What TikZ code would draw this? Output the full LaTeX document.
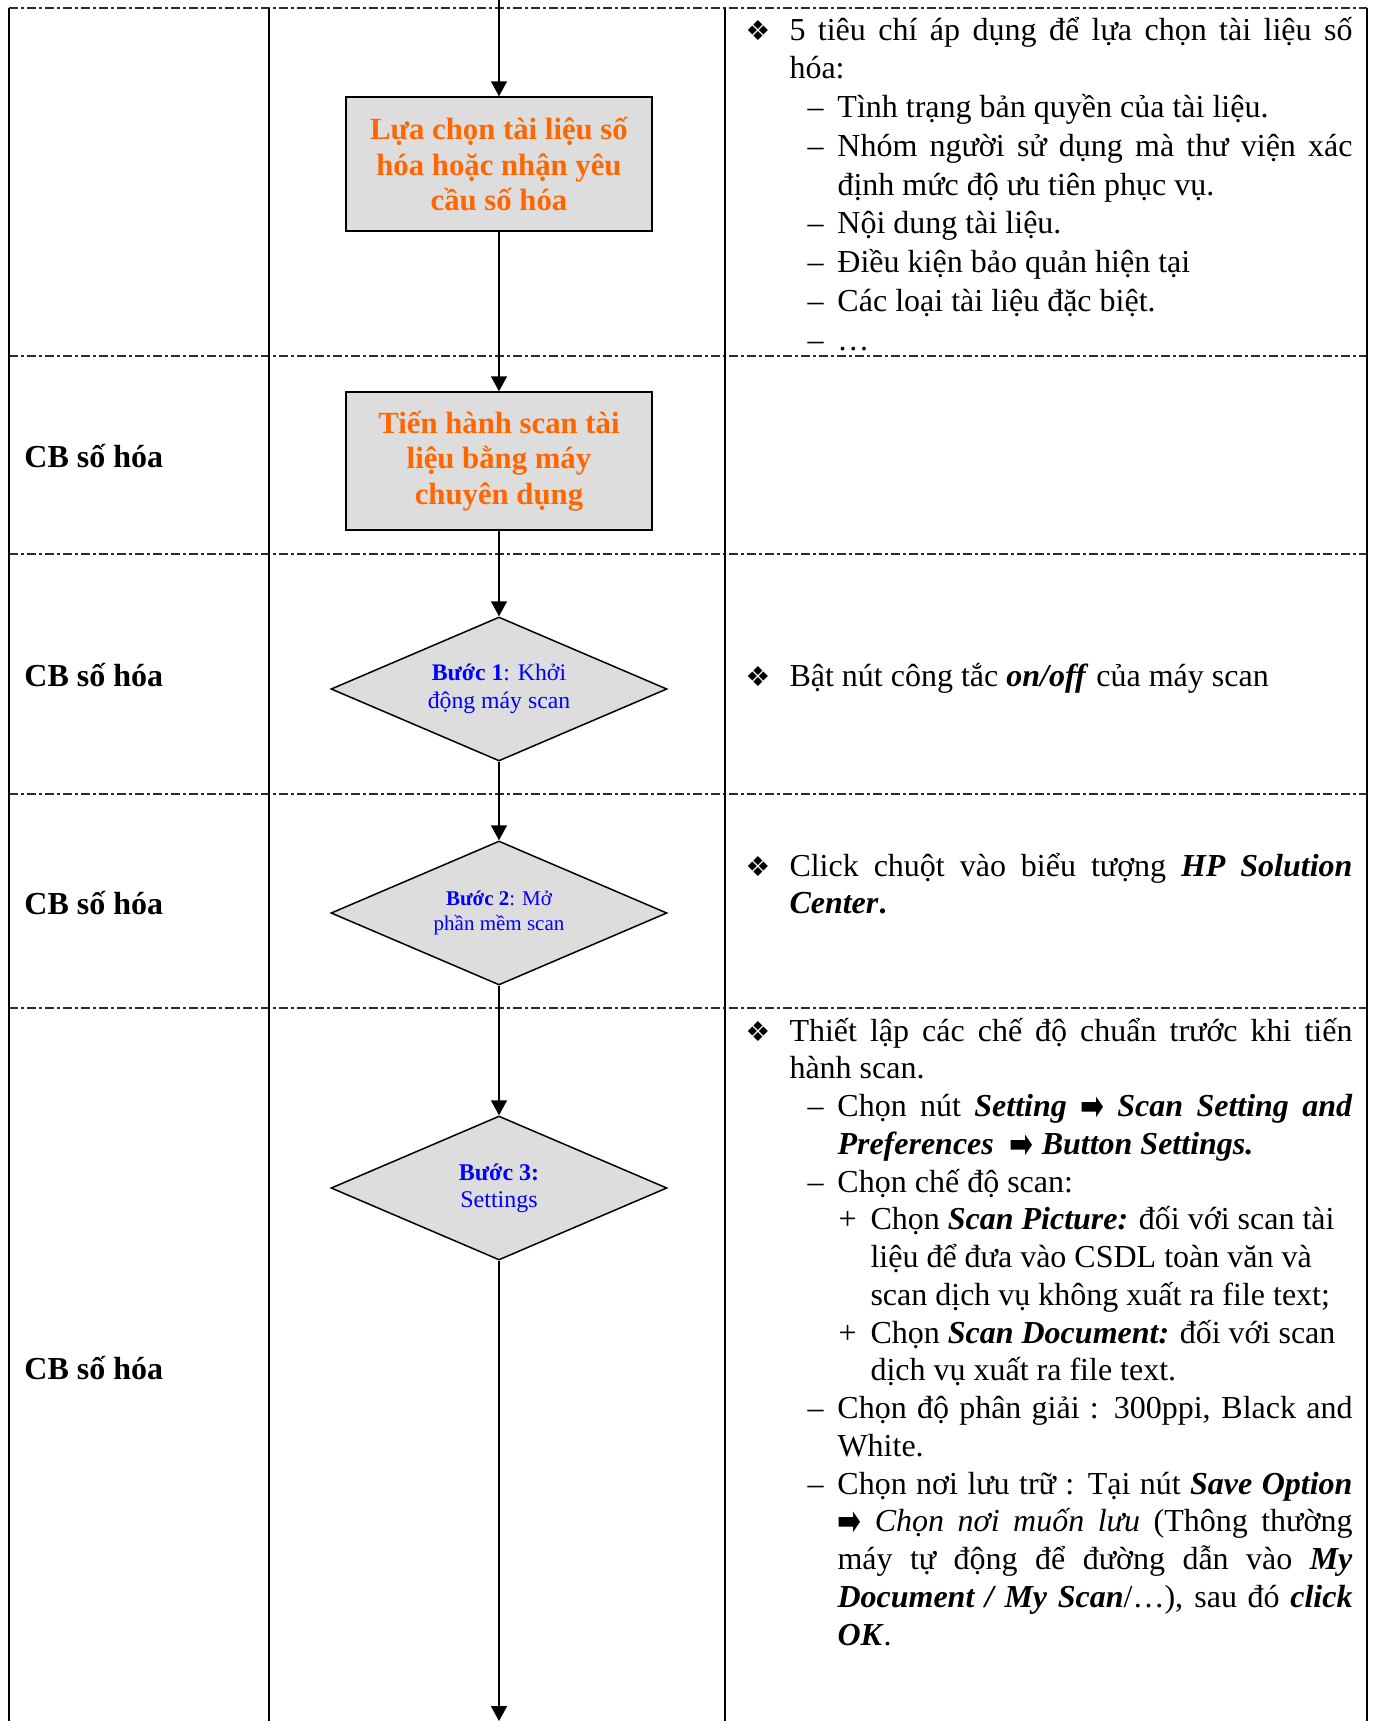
\documentclass[tikz,border=0pt]{standalone}
\usepackage{fontspec}
\setmainfont{Liberation Serif}
\newfontfamily\symfont{DejaVu Sans}
\usepackage{xcolor}
\usepackage{graphicx}
\usetikzlibrary{arrows.meta, positioning, shapes.geometric}

\definecolor{boxgray}{RGB}{221,221,221}
\definecolor{steporange}{RGB}{255,102,0}
\definecolor{stepblue}{RGB}{0,0,255}
\definecolor{rulegray}{RGB}{45,45,45}

\tolerance=10000
\hyphenpenalty=10000

% list items of the right column
\newcommand{\bullitem}[1]{\hangindent=17.6pt\hangafter=1\noindent
  \hbox to 17.6pt{{\symfont\fontsize{11}{11}\selectfont ❖}\hfil}#1\par}
\newcommand{\dashitem}[1]{{\leftskip=24.8pt\hangindent=12pt\hangafter=1\noindent
  \hbox to 12pt{–\hfil}#1\par}}
\newcommand{\plusitem}[1]{{\leftskip=37.2pt\rightskip=0pt plus 1fil\hangindent=12.8pt\hangafter=1\noindent
  \hbox to 12.8pt{+\hfil}#1\par}}
\newcommand{\rarr}{\raisebox{-1.6pt}{\scalebox{0.95}[1.4]{\symfont\fontsize{12}{12}\selectfont ➡}}}
\newcommand{\bi}[1]{\textbf{\textit{#1}}}

\begin{document}
\begin{tikzpicture}[x=0.4pt, y=-0.4pt,
    stepbox/.style={draw=black, line width=0.6pt, fill=boxgray, inner sep=0pt,
                    minimum width=122.4pt, minimum height=53.6pt, align=center,
                    text=steporange, font=\bfseries\fontsize{12.3}{14.2}\selectfont},
    stepdiam/.style={diamond, aspect=2.33, draw=black, line width=0.6pt, fill=boxgray,
                     inner sep=0pt, minimum width=134.4pt, minimum height=57.6pt,
                     align=center, text=stepblue},
    lane/.style={anchor=west, inner sep=0pt, font=\bfseries\fontsize{12.8}{15}\selectfont},
    note/.style={anchor=base west, inner sep=0pt, text width=242.8pt, align=justify,
                 font=\fontsize{12.8}{15.1}\selectfont},
    flow/.style={line width=0.6pt, -{Triangle[length=6pt,width=6.4pt]}},
    rowline/.style={draw=rulegray, line width=0.9pt,
                    dash pattern=on 3.6pt off 1.2pt on 1.2pt off 1.2pt},
    colline/.style={draw=black, line width=0.8pt}]
  \useasboundingbox (0,0) rectangle (1378,1721);

  % table
  \foreach \y in {8,356,554,794,1008}
    \draw[rowline] (9,\y) -- (1367,\y);
  \foreach \x in {9,269,725,1367}
    \draw[colline] (\x,8) -- (\x,1721);

  % lanes
  \node[lane] (lane2) at (24,456) {CB số hóa};
  \node[lane] (lane3) at (24,675) {CB số hóa};
  \node[lane] (lane4) at (24,903) {CB số hóa};
  \node[lane] (lane5) at (24,1368) {CB số hóa};

  % flow
  \coordinate (start) at (499,0);
  \node[stepbox] (select) at (499,164)
    {Lựa chọn tài liệu số\\hóa hoặc nhận yêu\\cầu số hóa};
  \node[stepbox, minimum height=55.2pt] (scan) at (499,461)
    {Tiến hành scan tài\\liệu bằng máy\\chuyên dụng};
  \node[stepdiam, font=\fontsize{9.5}{11.2}\selectfont] (step1) at (499,689)
    {\textbf{Bước 1}: Khởi\\động máy scan};
  \node[stepdiam, font=\fontsize{8.4}{10}\selectfont] (step2) at (499,913)
    {\textbf{Bước 2}: Mở\\phần mềm scan};
  \node[stepdiam, font=\fontsize{9.6}{10.8}\selectfont] (step3) at (499,1188)
    {\textbf{Bước 3:}\\Settings};
  \coordinate (end) at (499,1721);

  \draw[flow] (start) -- (select);
  \draw[flow] (select) -- (scan);
  \draw[flow] (scan) -- (step1);
  \draw[flow] (step1) -- (step2);
  \draw[flow] (step2) -- (step3);
  \draw[flow] (step3) -- (end);

  % notes
  \node[note, font=\fontsize{12.8}{15.5}\selectfont] (crit) at (745,40) {%
    \bullitem{5 tiêu chí áp dụng để lựa chọn tài liệu số\linebreak hóa:}
    \dashitem{Tình trạng bản quyền của tài liệu.}
    \dashitem{Nhóm người sử dụng mà thư viện xác\linebreak định mức độ ưu tiên phục vụ.}
    \dashitem{Nội dung tài liệu.}
    \dashitem{Điều kiện bảo quản hiện tại}
    \dashitem{Các loại tài liệu đặc biệt.}
    \dashitem{…}};
  \node[note] (power) at (745,686) {%
    \bullitem{Bật nút công tắc \bi{on/off} của máy scan}};
  \node[note] (open) at (745,876) {%
    \bullitem{Click chuột vào biểu tượng \bi{HP Solution}\linebreak \bi{Center}\textbf{.}}};
  \node[note] (setup) at (745,1041) {%
    \bullitem{Thiết lập các chế độ chuẩn trước khi tiến\linebreak hành scan.}
    \dashitem{Chọn nút \bi{Setting} \rarr\ \bi{Scan Setting and}\linebreak
      \bi{Preferences}\ \ \rarr\ \bi{Button Settings.}}
    \dashitem{Chọn chế độ scan:}
    \plusitem{Chọn \bi{Scan Picture:} đối với scan tài\newline
      liệu để đưa vào CSDL toàn văn và\newline scan dịch vụ không xuất ra file text;}
    \plusitem{Chọn \bi{Scan Document:} đối với scan\newline dịch vụ xuất ra file text.}
    \dashitem{Chọn độ phân giải : 300ppi, Black and\linebreak White.}
    \dashitem{Chọn nơi lưu trữ : Tại nút \bi{Save Option}\linebreak
      \rarr\ \textit{Chọn nơi muốn lưu} (Thông thường\linebreak
      máy tự động để đường dẫn vào \bi{My}\linebreak
      \bi{Document / My Scan}/…), sau đó \bi{click}\linebreak \bi{OK}.}};
\end{tikzpicture}
\end{document}
